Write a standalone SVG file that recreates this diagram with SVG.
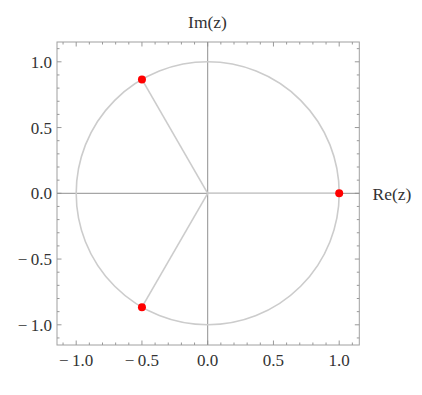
<svg xmlns="http://www.w3.org/2000/svg" width="422" height="395" viewBox="0 0 422 395">
<style>
.lbl{font-family:"Liberation Serif","Times New Roman",serif;font-size:17px;fill:#333}
.ax{font-family:"Liberation Serif","Times New Roman",serif;font-size:17.5px;fill:#333}
.tick{stroke:#999;stroke-width:1;fill:none}
.frame{stroke:#a0a0a0;stroke-width:1;fill:none}
.axis{stroke:#909090;stroke-width:1}
.spoke{stroke:#cccccc;stroke-width:1.6;fill:none}
.pt{fill:#ff0000}
</style>
<rect width="422" height="395" fill="#fff"/>
<g id="frame">
<rect class="frame" x="57" y="42" width="302.3" height="303"/>
<path class="tick" d="M63.05 345v-2.5M89.35 345v-2.5M102.5 345v-2.5M115.65 345v-2.5M128.8 345v-2.5M155.1 345v-2.5M168.25 345v-2.5M181.4 345v-2.5M194.55 345v-2.5M220.85 345v-2.5M234 345v-2.5M247.15 345v-2.5M260.3 345v-2.5M286.6 345v-2.5M299.75 345v-2.5M312.9 345v-2.5M326.05 345v-2.5M352.35 345v-2.5
M76.2 345v-4.5M141.95 345v-4.5M207.7 345v-4.5M273.45 345v-4.5M339.2 345v-4.5
M63.05 42v2.5M89.35 42v2.5M102.5 42v2.5M115.65 42v2.5M128.8 42v2.5M155.1 42v2.5M168.25 42v2.5M181.4 42v2.5M194.55 42v2.5M220.85 42v2.5M234 42v2.5M247.15 42v2.5M260.3 42v2.5M286.6 42v2.5M299.75 42v2.5M312.9 42v2.5M326.05 42v2.5M352.35 42v2.5
M76.2 42v4.5M141.95 42v4.5M207.7 42v4.5M273.45 42v4.5M339.2 42v4.5
M57 48.65h2.5M57 74.95h2.5M57 88.1h2.5M57 101.25h2.5M57 114.4h2.5M57 140.7h2.5M57 153.85h2.5M57 167h2.5M57 180.15h2.5M57 206.45h2.5M57 219.6h2.5M57 232.75h2.5M57 245.9h2.5M57 272.2h2.5M57 285.35h2.5M57 298.5h2.5M57 311.65h2.5M57 337.95h2.5
M57 61.8h4.5M57 127.55h4.5M57 193.3h4.5M57 259.05h4.5M57 324.8h4.5
M359.3 48.65h-2.5M359.3 74.95h-2.5M359.3 88.1h-2.5M359.3 101.25h-2.5M359.3 114.4h-2.5M359.3 140.7h-2.5M359.3 153.85h-2.5M359.3 167h-2.5M359.3 180.15h-2.5M359.3 206.45h-2.5M359.3 219.6h-2.5M359.3 232.75h-2.5M359.3 245.9h-2.5M359.3 272.2h-2.5M359.3 285.35h-2.5M359.3 298.5h-2.5M359.3 311.65h-2.5M359.3 337.95h-2.5
M359.3 61.8h-4.5M359.3 127.55h-4.5M359.3 193.3h-4.5M359.3 259.05h-4.5M359.3 324.8h-4.5"/>
</g>
<g id="tick-labels">
<text class="lbl" x="52" y="67.8" text-anchor="end">1.0</text>
<text class="lbl" x="52" y="133.5" text-anchor="end">0.5</text>
<text class="lbl" x="52" y="199.3" text-anchor="end">0.0</text>
<text class="lbl" x="52" y="265" text-anchor="end">−&#8201;0.5</text>
<text class="lbl" x="52" y="330.8" text-anchor="end">−&#8201;1.0</text>
<text class="lbl" x="76.2" y="366" text-anchor="middle">−&#8201;1.0</text>
<text class="lbl" x="141.95" y="366" text-anchor="middle">−&#8201;0.5</text>
<text class="lbl" x="207.7" y="366" text-anchor="middle">0.0</text>
<text class="lbl" x="273.45" y="366" text-anchor="middle">0.5</text>
<text class="lbl" x="339.2" y="366" text-anchor="middle">1.0</text>
</g>
<g id="axis-labels">
<text class="ax" x="207.5" y="28" text-anchor="middle">Im(z)</text>
<text class="ax" x="372.5" y="199.5">Re(z)</text>
</g>
<g id="axes">
<line class="axis" x1="57" y1="193.3" x2="359.3" y2="193.3"/>
<line class="axis" x1="207.7" y1="42" x2="207.7" y2="345"/>
</g>
<g id="unit-circle">
<circle class="spoke" cx="207.7" cy="193.3" r="131.5"/>
</g>
<g id="connectors">
<line class="spoke" x1="207.7" y1="193.3" x2="339.2" y2="193.3" stroke="#aaa"/>
<line class="spoke" x1="207.7" y1="193.3" x2="141.95" y2="79.4"/>
<line class="spoke" x1="207.7" y1="193.3" x2="141.95" y2="307.2"/>
</g>
<g id="root-1"><circle class="pt" cx="339.2" cy="193.3" r="4"/></g>
<g id="root-2"><circle class="pt" cx="141.95" cy="79.4" r="4"/></g>
<g id="root-3"><circle class="pt" cx="141.95" cy="307.2" r="4"/></g>
</svg>
